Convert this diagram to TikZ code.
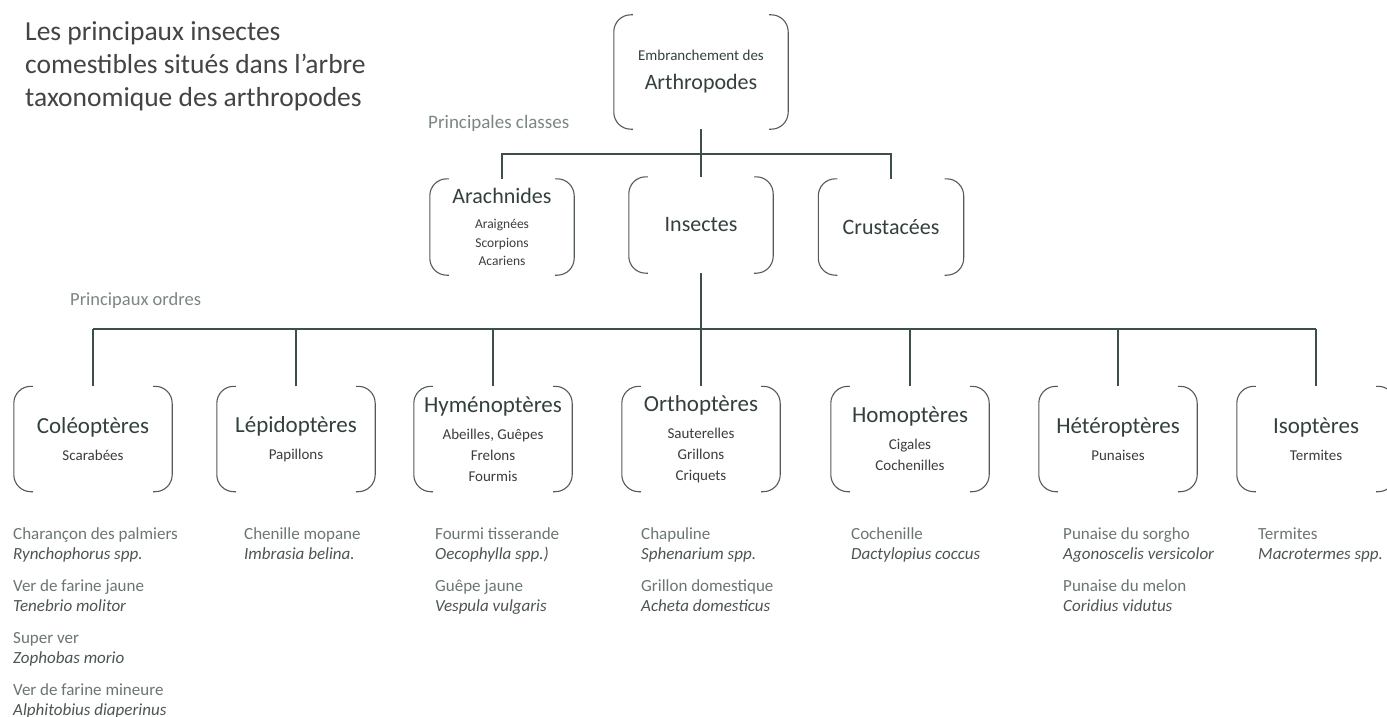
\documentclass[tikz,border=0pt]{standalone}
\usepackage{fontspec}
\setmainfont{Carlito}

\definecolor{linecol}{HTML}{3D4F4A}
\definecolor{bracketcol}{HTML}{535B58}
\definecolor{titlecol}{HTML}{33413E}
\definecolor{subcol}{HTML}{3C3C3C}
\definecolor{labelcol}{HTML}{7B8784}
\definecolor{listcol}{HTML}{6B7673}
\definecolor{latincol}{HTML}{4D5553}
\definecolor{headcol}{HTML}{444444}

\newcommand{\ordertitle}[1]{{\fontsize{23}{23}\selectfont #1}}
\newcommand{\classtitle}[1]{{\fontsize{22}{22}\selectfont #1}}
\newcommand{\boxsub}[1]{{\color{subcol}#1}}
\newcommand{\sciname}[1]{{\itshape\color{latincol}#1}}

\tikzset{
  bracket/.style={draw=bracketcol, line width=1.1pt, rounded corners=17pt},
  classbox/.style={minimum width=144pt, minimum height=96pt, inner sep=0pt, align=center, text=titlecol, font=\fontsize{13.5}{18.5}\selectfont},
  orderbox/.style={minimum width=158pt, minimum height=105pt, inner sep=0pt, align=center, text=titlecol, font=\fontsize{15}{21}\selectfont},
  link/.style={draw=linecol, line width=1.1pt},
  barline/.style={draw=linecol, line width=1.8pt},
  rank/.style={anchor=west, inner sep=0pt, text=labelcol},
  listtext/.style={anchor=north west, inner sep=0pt, align=left, text=listcol, font=\fontsize{17}{20}\selectfont},
}

\begin{document}
\begin{tikzpicture}[x=1pt, y=-1pt]
\fill[white] (0, 0) rectangle (1387, 717);
\useasboundingbox (0, 0) rectangle (1387, 717);

\node (heading) at (25, 66) [anchor=west, align=left, inner sep=0pt, text=headcol, font=\fontsize{27.5}{33}\selectfont] {Les principaux insectes\\comestibles situés dans l’arbre\\taxonomique des arthropodes};

% phylum
\node (embr) at (701, 72) [classbox, minimum width=174pt, minimum height=114pt, font=\fontsize{15}{18}\selectfont] {Embranchement des\\[11pt]\classtitle{Arthropodes}};
\node (classlabel) at (428, 123) [rank, font=\fontsize{19}{19}\selectfont] {Principales classes};

% classes
\node (arach) at (502, 227) [classbox] {\classtitle{Arachnides}\\[7pt]\boxsub{Araignées}\\\boxsub{Scorpions}\\\boxsub{Acariens}};
\node (insectes) at (701, 225) [classbox] {\classtitle{Insectes}};
\node (crust) at (891, 227) [classbox, minimum width=145pt] {\classtitle{Crustacées}};
\node (orderlabel) at (70, 301) [rank, font=\fontsize{18.5}{18.5}\selectfont] {Principaux ordres};

% orders
\node (col) at (93, 439) [orderbox] {\ordertitle{Coléoptères}\\[6pt]\boxsub{Scarabées}};
\node (lep) at (296, 439) [orderbox] {\ordertitle{Lépidoptères}\\[6pt]\boxsub{Papillons}};
\node (hym) at (493, 439) [orderbox] {\ordertitle{Hyménoptères}\\[6pt]\boxsub{Abeilles, Guêpes}\\\boxsub{Frelons}\\\boxsub{Fourmis}};
\node (orth) at (701, 439) [orderbox] {\ordertitle{Orthoptères}\\[6pt]\boxsub{Sauterelles}\\\boxsub{Grillons}\\\boxsub{Criquets}};
\node (hom) at (910, 439) [orderbox] {\ordertitle{Homoptères}\\[6pt]\boxsub{Cigales}\\\boxsub{Cochenilles}};
\node (het) at (1118, 439) [orderbox] {\ordertitle{Hétéroptères}\\[6pt]\boxsub{Punaises}};
\node (iso) at (1316, 439) [orderbox] {\ordertitle{Isoptères}\\[6pt]\boxsub{Termites}};

% edible species
\node (colist) at (13, 527) [listtext] {Charançon des palmiers\\\sciname{Rynchophorus spp.}\\[12pt]Ver de farine jaune\\\sciname{Tenebrio molitor}\\[12pt]Super ver\\\sciname{Zophobas morio}\\[12pt]Ver de farine mineure\\\sciname{Alphitobius diaperinus}};
\node (leplist) at (244, 527) [listtext] {Chenille mopane\\\sciname{Imbrasia belina.}};
\node (hymlist) at (435, 527) [listtext] {Fourmi tisserande\\\sciname{Oecophylla spp.)}\\[12pt]Guêpe jaune\\\sciname{Vespula vulgaris}};
\node (orthlist) at (641, 527) [listtext] {Chapuline\\\sciname{Sphenarium spp.}\\[12pt]Grillon domestique\\\sciname{Acheta domesticus}};
\node (homlist) at (851, 527) [listtext] {Cochenille\\\sciname{Dactylopius coccus}};
\node (hetlist) at (1063, 527) [listtext] {Punaise du sorgho\\\sciname{Agonoscelis versicolor}\\[12pt]Punaise du melon\\\sciname{Coridius vidutus}};
\node (isolist) at (1258, 527) [listtext] {\vphantom{l}Termites\\\sciname{Macrotermes spp.}};

\foreach \b in {embr, arach, insectes, crust, col, lep, hym, orth, hom, het, iso} {
  \draw[bracket] ([xshift=19pt]\b.north west) -- (\b.north west) -- (\b.south west) -- ([xshift=19pt]\b.south west);
  \draw[bracket] ([xshift=-19pt]\b.north east) -- (\b.north east) -- (\b.south east) -- ([xshift=-19pt]\b.south east);
}

\coordinate (classbar) at (701, 154);
\coordinate (orderbar) at (701, 329);

\draw[link] (embr) -- (insectes);
\draw[link] (arach.north) |- (classbar) -| (crust.north);

\draw[link, line width=1.5pt] (insectes) -- (orderbar);
\draw[barline] (col.north |- orderbar) -- (iso.north |- orderbar);
\foreach \b in {col, lep, hym, orth, hom, het, iso}
  \draw[link] (\b.north) -- (\b.north |- orderbar);
\end{tikzpicture}
\end{document}
